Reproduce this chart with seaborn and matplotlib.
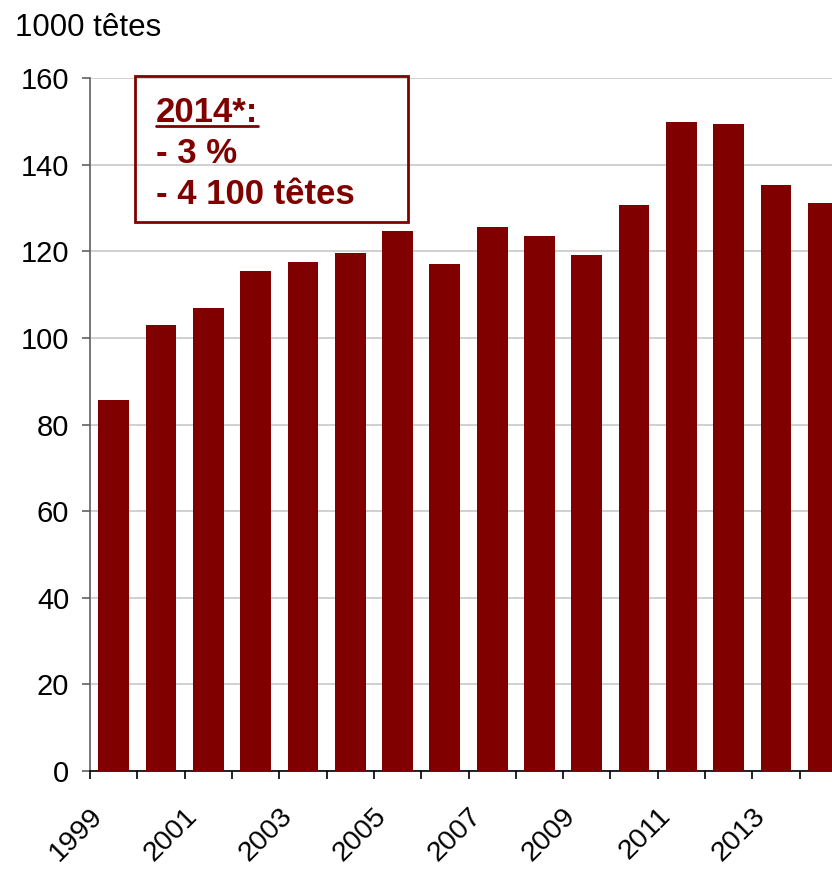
import matplotlib
matplotlib.use('Agg')
import matplotlib.pyplot as plt
import matplotlib.transforms as mtransforms
from matplotlib.patches import Rectangle
from matplotlib.lines import Line2D
import seaborn as sns
import pandas as pd

# Data (1000 head)
years = [str(y) for y in range(1999, 2015)]
values = [85.7, 103.0, 106.9, 115.5, 117.6, 119.6, 124.7, 117.1,
          125.6, 123.6, 119.2, 130.7, 149.9, 149.4, 135.3, 131.2]
label_years = years[::2]
box_lines = ['2014*:', '- 3 %', '- 4 100 têtes']
unit_label = '1000 têtes'

dark_red = '#800000'

sns.set_style('white')
plt.rcParams['font.family'] = ['Liberation Sans', 'DejaVu Sans']
plt.rcParams['text.color'] = 'black'
plt.rcParams['xtick.labelcolor'] = 'black'
plt.rcParams['ytick.labelcolor'] = 'black'

df = pd.DataFrame({'year': years, 'value': values})

fig = plt.figure(figsize=(8.32, 8.69), dpi=100)
W, H = 832, 869
ax = fig.add_axes([90 / W, 1 - 771 / H, 757 / W, 693 / H])

sns.barplot(data=df, x='year', y='value', color=dark_red, saturation=1,
            width=0.65, linewidth=0, ax=ax, zorder=3)

ax.set_xlim(-0.5, len(years) - 0.5)
ax.set_ylim(0, 160)
ax.set_yticks(range(0, 161, 20))
ax.set_xlabel('')
ax.set_ylabel('')

# gridlines
ax.yaxis.grid(True, color='#c8c8c8', linewidth=1.2, zorder=0)
ax.xaxis.grid(False)
ax.set_axisbelow(True)

for s in ['top', 'right']:
    ax.spines[s].set_visible(False)
ax.spines['left'].set_color('#606060')
ax.spines['left'].set_linewidth(1.2)
ax.spines['bottom'].set_color('black')
ax.spines['bottom'].set_linewidth(1.2)

# y ticks
ax.tick_params(axis='y', direction='out', length=6, width=1.2, color='#606060',
               labelcolor='black', pad=9, labelsize=21, left=True)

# x: boundary ticks as minor, labels at every second category center
ax.set_xticks([i + 0.5 for i in range(-1, len(years))], minor=True)
ax.set_xticks(range(0, len(years), 2))
ax.set_xticklabels(label_years)
ax.tick_params(axis='x', which='minor', direction='out', length=5.5, width=1.2,
               color='black', bottom=True)
ax.tick_params(axis='x', which='major', length=0, pad=28, labelsize=20.5,
               labelcolor='black')
shift = mtransforms.ScaledTranslation(-17 / 100, 0, fig.dpi_scale_trans)
for lab in ax.get_xticklabels():
    lab.set_rotation(45)
    lab.set_ha('right')
    lab.set_va('center_baseline')
    lab.set_rotation_mode('anchor')
    lab.set_transform(lab.get_transform() + shift)

# unit label
fig.text(15 / W, 1 - 36 / H, unit_label, fontsize=22.5, va='baseline', ha='left',
         color='black')

# annotation box
fig.patches.append(Rectangle((135 / W, 1 - 222 / H), 273 / W, 146 / H,
                             transform=fig.transFigure, fill=False,
                             edgecolor=dark_red, linewidth=2, zorder=5))
baselines = [122, 163, 204]
texts = []
for line, yb in zip(box_lines, baselines):
    t = fig.text(156 / W, 1 - yb / H, line, fontsize=25, fontweight='bold',
                 color=dark_red, va='baseline', ha='left')
    texts.append(t)

fig.canvas.draw()
bb = texts[0].get_window_extent()
fig.lines.append(Line2D([bb.x0 / W, bb.x1 / W], [1 - 126 / H, 1 - 126 / H],
                        transform=fig.transFigure, color=dark_red, linewidth=2))

fig.savefig('out.png', dpi=100)
